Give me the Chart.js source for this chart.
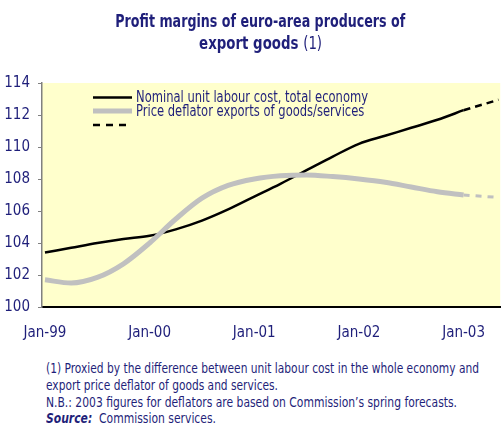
<!DOCTYPE html>
<html>
<head>
<meta charset="utf-8">
<script src="https://cdn.jsdelivr.net/npm/chart.js@4"></script>
<style>
  html, body { margin: 0; padding: 0; background: #ffffff; }
  body { width: 502px; height: 430px; position: relative; overflow: hidden;
         font-family: "DejaVu Sans Condensed", "Liberation Sans", sans-serif; color: #1f1f7a; }
  .line { position: absolute; white-space: nowrap; }
  .t { font-size: 18px; line-height: 22px; font-weight: bold; transform-origin: center center; }
  .t span { font-weight: normal; }
  .n { font-size: 14px; line-height: 17px; left: 46px; transform-origin: left center; }
  #chart { position: absolute; left: 0; top: 0; }
</style>
</head>
<body>
<canvas id="chart" width="502" height="345"></canvas>
<div class="line t" id="t1" data-w="290" data-cx="260" style="top:9.7px">Profit margins of euro-area producers of</div>
<div class="line t" id="t2" data-w="123" data-cx="261" style="top:31.7px">export goods <span>(1)</span></div>
<div class="line n" data-w="433" style="top:359.5px">(1) Proxied by the difference between unit labour cost in the whole economy and</div>
<div class="line n" data-w="232" style="top:376.5px">export price deflator of goods and services.</div>
<div class="line n" data-w="411" style="top:393.5px">N.B.: 2003 figures for deflators are based on Commission’s spring forecasts.</div>
<div class="line n" data-w="170" style="top:409.5px"><b><i>Source:</i></b>&nbsp; Commission services.</div>
<script>
// Months since Jan-99 (quarterly readings)
const months = [0, 3, 6, 9, 12, 15, 18, 21, 24, 27, 30, 33, 36, 39, 42, 45, 48];
const unitLabourCost = [103.4, 103.7, 104.0, 104.25, 104.45, 104.85, 105.4, 106.1, 106.9, 107.7, 108.55, 109.4, 110.2, 110.7, 111.2, 111.7, 112.3];
const exportDeflator = [101.7, 101.5, 101.85, 102.7, 104.0, 105.5, 106.8, 107.6, 108.0, 108.2, 108.25, 108.15, 108.0, 107.8, 107.5, 107.2, 107.0];
// Forecast segment
const forecastMonths = [48, 52];
const unitLabourCostForecast = [112.3, 112.95];
const exportDeflatorForecast = [107.0, 106.85];
// Axis labels
const xTickMonths = [0, 12, 24, 36, 48];
const xTickLabels = ['Jan-99', 'Jan-00', 'Jan-01', 'Jan-02', 'Jan-03'];
const seriesLabels = ['Nominal unit labour cost, total economy', 'Price deflator exports of goods/services'];

const FONT = '"DejaVu Sans Condensed", "Liberation Sans", sans-serif';
const TEXT = '#1f1f7a';

// Fit the HTML text lines to the widths of the reference
document.querySelectorAll('.line').forEach(el => {
  const w = el.getBoundingClientRect().width;
  const target = parseFloat(el.dataset.w);
  const k = target / w;
  if (el.dataset.cx) {
    el.style.left = (parseFloat(el.dataset.cx) - w / 2) + 'px';
  }
  el.style.transform = 'scaleX(' + k + ')';
});

function pts(xs, ys) { return xs.map((x, i) => ({ x: x, y: ys[i] })); }

const bgPlugin = {
  id: 'bg',
  beforeDraw(chart) {
    const a = chart.chartArea, ctx = chart.ctx;
    ctx.save();
    ctx.fillStyle = '#ffffcc';
    ctx.fillRect(a.left, a.top, a.right - a.left, a.bottom - a.top);
    ctx.restore();
  }
};

const legendPlugin = {
  id: 'customLegend',
  afterDraw(chart) {
    const ctx = chart.ctx;
    ctx.save();
    const x0 = 93, x1 = 132;
    ctx.lineCap = 'butt';
    ctx.strokeStyle = '#000000'; ctx.lineWidth = 2.5;
    ctx.beginPath(); ctx.moveTo(x0, 97.5); ctx.lineTo(x1, 97.5); ctx.stroke();
    ctx.strokeStyle = '#c0c0c0'; ctx.lineWidth = 5;
    ctx.beginPath(); ctx.moveTo(x0, 111); ctx.lineTo(x1, 111); ctx.stroke();
    ctx.strokeStyle = '#000000'; ctx.lineWidth = 2.5; ctx.setLineDash([7, 6]);
    ctx.beginPath(); ctx.moveTo(x0, 125); ctx.lineTo(x1, 125); ctx.stroke();
    ctx.setLineDash([]);
    ctx.fillStyle = TEXT;
    ctx.font = '15px ' + FONT;
    const m = ctx.measureText(seriesLabels[0]).width;
    const k = 232 / m;
    ctx.textBaseline = 'middle';
    ctx.translate(136, 0);
    ctx.scale(k, 1);
    ctx.fillText(seriesLabels[0], 0, 98);
    ctx.fillText(seriesLabels[1], 0, 112.5);
    ctx.restore();
  }
};

new Chart(document.getElementById('chart'), {
  type: 'line',
  data: {
    datasets: [
      { label: seriesLabels[1], data: pts(months, exportDeflator), borderColor: '#c0c0c0', borderWidth: 5,
        pointRadius: 0, cubicInterpolationMode: 'monotone', order: 1 },
      { label: seriesLabels[0], data: pts(months, unitLabourCost), borderColor: '#000000', borderWidth: 2.5,
        pointRadius: 0, cubicInterpolationMode: 'monotone', order: 2 },
      { label: 'forecast deflator', data: pts(forecastMonths, exportDeflatorForecast), borderColor: '#c0c0c0', borderWidth: 3,
        borderDash: [6, 6], pointRadius: 0, order: 3 },
      { label: 'forecast ulc', data: pts(forecastMonths, unitLabourCostForecast), borderColor: '#000000', borderWidth: 2.5,
        borderDash: [7, 5], pointRadius: 0, order: 4 }
    ]
  },
  options: {
    responsive: false,
    devicePixelRatio: 1,
    animation: false,
    layout: { padding: { top: 83, left: 0, right: 0, bottom: 0 } },
    plugins: { legend: { display: false }, tooltip: { enabled: false }, title: { display: false } },
    scales: {
      x: {
        type: 'linear', min: -0.34, max: 52.2,
        afterBuildTicks(scale) { scale.ticks = xTickMonths.map(v => ({ value: v })); },
        afterFit(scale) { scale.height = 38; },
        ticks: {
          autoSkip: false, maxRotation: 0, padding: 17, color: TEXT,
          font: { family: FONT, size: 15 },
          callback(v) { const i = xTickMonths.indexOf(v); return i >= 0 ? xTickLabels[i] : ''; }
        },
        grid: { display: true, drawOnChartArea: false, drawTicks: false, color: 'rgba(0,0,0,0)' },
        border: { display: true, color: '#000000', width: 2 }
      },
      y: {
        min: 100, max: 114,
        afterFit(scale) { scale.width = 42; },
        ticks: { stepSize: 2, padding: 8, color: TEXT, font: { family: FONT, size: 15 } },
        grid: { display: true, drawOnChartArea: false, drawTicks: true, tickLength: 4, color: '#808080' },
        border: { display: true, color: '#808080', width: 1.5 }
      }
    }
  },
  plugins: [bgPlugin, legendPlugin]
});
</script>
</body>
</html>
